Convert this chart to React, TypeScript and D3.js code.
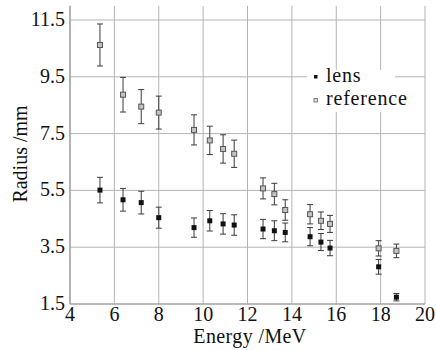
import React from "react";
import * as d3 from "d3";

const energies = [5.35, 6.39, 7.21, 8.0, 9.59, 10.3, 10.9, 11.4, 12.7, 13.21, 13.7, 14.82, 15.31, 15.72, 17.91, 18.71];
const lensRadius = [5.51, 5.17, 5.07, 4.54, 4.19, 4.43, 4.32, 4.28, 4.14, 4.08, 4.02, 3.87, 3.68, 3.47, 2.81, 1.74];
const lensErr = [0.45, 0.4, 0.4, 0.37, 0.34, 0.36, 0.36, 0.36, 0.34, 0.35, 0.33, 0.32, 0.3, 0.27, 0.26, 0.13];
const refRadius = [10.62, 8.87, 8.45, 8.24, 7.63, 7.26, 6.96, 6.79, 5.57, 5.37, 4.81, 4.66, 4.43, 4.32, 3.46, 3.37];
const refErr = [0.74, 0.61, 0.6, 0.58, 0.53, 0.5, 0.5, 0.48, 0.37, 0.38, 0.36, 0.34, 0.31, 0.3, 0.27, 0.24];
const xTicks = [4, 6, 8, 10, 12, 14, 16, 18, 20];
const yTicks = [1.5, 3.5, 5.5, 7.5, 9.5, 11.5];
const legendLabels = ["lens", "reference"];

const FONT = "Liberation Serif, DejaVu Serif, Times New Roman, serif";

export default function App() {
  const left = 70, right = 425, top = 5.8, bottom = 304;
  const x = d3.scaleLinear().domain([4, 20]).range([left, right]);
  const y = d3.scaleLinear().domain([1.5, 12]).range([bottom, top]);
  const grid = "#b4b4b4";
  const ms = 5;
  const cap = 3;
  const txt = (size: number, extra: React.CSSProperties = {}): React.CSSProperties => ({
    fontFamily: FONT,
    fontSize: size,
    ...extra,
  });

  const errBar = (e: number, r: number, err: number, key: string) => (
    <g key={key} stroke="#3a3a3a" strokeWidth={1}>
      <line x1={x(e)} x2={x(e)} y1={y(r + err)} y2={y(r - err)} />
      <line x1={x(e) - cap} x2={x(e) + cap} y1={y(r + err)} y2={y(r + err)} />
      <line x1={x(e) - cap} x2={x(e) + cap} y1={y(r - err)} y2={y(r - err)} />
    </g>
  );

  return (
    <svg width={436} height={350} style={{ position: "absolute", left: 0, top: 0, background: "#fff" }}>
      <rect x={0} y={0} width={436} height={350} fill="#fff" />
      {xTicks.map((t) => (
        <line key={"gx" + t} x1={x(t)} x2={x(t)} y1={top} y2={bottom} stroke={grid} strokeWidth={1} />
      ))}
      {yTicks.map((t) => (
        <line key={"gy" + t} x1={left} x2={right} y1={y(t)} y2={y(t)} stroke={grid} strokeWidth={1} />
      ))}
      <line x1={left} x2={left} y1={top} y2={bottom} stroke="#999" strokeWidth={1.2} />
      <line x1={left} x2={right} y1={bottom} y2={bottom} stroke="#999" strokeWidth={1.2} />
      {yTicks.map((t) => (
        <text key={"ty" + t} x={65} y={y(t) + 6} textAnchor="end" style={txt(20)} fill="#111">
          {t.toFixed(1)}
        </text>
      ))}
      {xTicks.map((t) => (
        <text key={"tx" + t} x={x(t)} y={bottom + 17} textAnchor="middle" style={txt(20)} fill="#111">
          {t}
        </text>
      ))}
      <text x={250} y={343} textAnchor="middle" style={txt(20, { letterSpacing: "0.4px" })} fill="#111">
        Energy /MeV
      </text>
      <text transform="translate(27,154) rotate(-90)" textAnchor="middle" style={txt(20)} fill="#111">
        Radius /mm
      </text>
      {energies.map((e, i) => errBar(e, refRadius[i], refErr[i], "re" + i))}
      {energies.map((e, i) => (
        <rect key={"rp" + i} x={x(e) - ms / 2} y={y(refRadius[i]) - ms / 2} width={ms} height={ms} fill="#c4c4c4" stroke="#555" strokeWidth={1} />
      ))}
      {energies.map((e, i) => errBar(e, lensRadius[i], lensErr[i], "le" + i))}
      {energies.map((e, i) => (
        <rect key={"lp" + i} x={x(e) - ms / 2} y={y(lensRadius[i]) - ms / 2} width={ms} height={ms} fill="#111" />
      ))}
      <rect x={307} y={70} width={88} height={42} fill="#fff" />
      <rect x={314} y={75} width={3.5} height={3.5} fill="#111" />
      <rect x={314} y={98.5} width={3.5} height={3.5} fill="#ddd" stroke="#666" strokeWidth={0.8} />
      <text x={326} y={82} style={txt(20, { letterSpacing: "0.8px" })} fill="#111">{legendLabels[0]}</text>
      <text x={326} y={105} style={txt(20, { letterSpacing: "0.8px" })} fill="#111">{legendLabels[1]}</text>
    </svg>
  );
}
